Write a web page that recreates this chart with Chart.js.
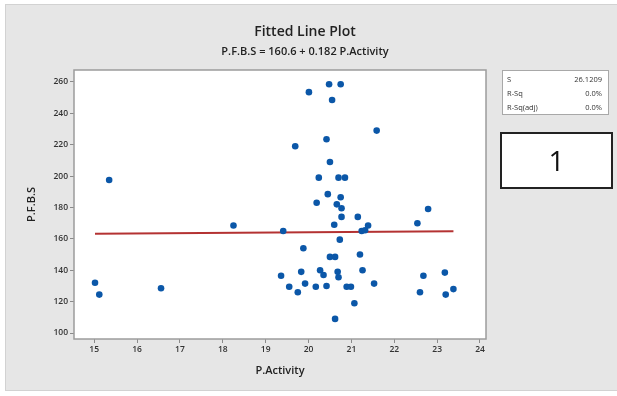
<!DOCTYPE html>
<html>
<head>
<meta charset="utf-8">
<script src="https://cdn.jsdelivr.net/npm/chart.js@4.4.1/dist/chart.umd.min.js"></script>
<style>
  html, body { margin: 0; padding: 0; background: #ffffff; }
  #wrap { position: relative; width: 617px; height: 396px; overflow: hidden; font-family: "Open Sans", "Noto Sans", sans-serif; }
  #panel { position: absolute; left: 5px; top: 4px; width: 612px; height: 387px; background: #e6e6e6; border-top: 1px solid #d2d2d2; border-left: 1px solid #d2d2d2; border-bottom: 1px solid #d2d2d2; box-sizing: border-box; }
  #c { position: absolute; left: 0; top: 0; }
  .t { position: absolute; white-space: nowrap; color: #222; }
  #title { left: 305px; top: 30px; transform: translate(-50%, -50%); font-size: 14px; font-weight: 600; }
  #sub { left: 305px; top: 50px; transform: translate(-50%, -50%); font-size: 11px; font-weight: 600; }
  #stats { position: absolute; left: 502px; top: 70px; width: 107px; height: 45px; background: #fff; border: 1px solid #a8a8a8; box-sizing: border-box; font-size: 7.5px; color: #333; }
  #stats .r { position: absolute; left: 4px; right: 6px; height: 10px; }
  #stats .r span:last-child { position: absolute; right: 0; }
  #one { position: absolute; left: 500px; top: 132px; width: 113px; height: 57px; background: #fff; border: 2px solid #222; box-sizing: border-box; font-size: 28px; color: #111; text-align: center; line-height: 53px; }
</style>
</head>
<body>
<div id="wrap">
  <div id="panel"></div>
  <canvas id="c" width="617" height="396"></canvas>
  <div class="t" id="title">Fitted Line Plot</div>
  <div class="t" id="sub">P.F.B.S = 160.6 + 0.182 P.Activity</div>
  <div id="stats">
    <div class="r" style="top:3px"><span>S</span><span>26.1209</span></div>
    <div class="r" style="top:17px"><span>R-Sq</span><span>0.0%</span></div>
    <div class="r" style="top:31px"><span>R-Sq(adj)</span><span>0.0%</span></div>
  </div>
  <div id="one">1</div>
</div>
<script>
// ---- data ----
const activity = [
  15.02, 15.12, 15.35, 16.56, 18.25,
  19.36, 19.41, 19.55, 19.69, 19.75, 19.83, 19.88, 19.92, 20.01, 20.17,
  20.19, 20.24, 20.27, 20.35, 20.42, 20.42, 20.45, 20.48, 20.50, 20.50,
  20.55, 20.62, 20.60, 20.62, 20.66, 20.68, 20.70, 20.70, 20.73, 20.75,
  20.75, 20.77, 20.77, 20.85, 20.89, 20.99, 21.07, 21.15, 21.20, 21.24,
  21.26, 21.32, 21.39, 21.53, 21.59,
  22.54, 22.60, 22.68, 22.79, 23.18, 23.20, 23.38
];
const pfbs = [
  132, 124.5, 197.5, 128.5, 168.5,
  136.5, 165, 129.5, 219, 126, 139, 154, 131.5, 253.5, 129.5,
  183, 199, 140, 137, 130, 223.5, 188.5, 258.5, 209, 148.5,
  248.5, 148.5, 169, 109, 182, 139, 135.5, 199, 159.5, 186.5,
  258.5, 179.5, 174, 199, 129.5, 129.5, 119, 174, 150, 165,
  140, 165.5, 168.5, 131.5, 229,
  170, 126, 136.5, 179, 138.5, 124.5, 128
];
const fitX = [15.02, 23.38];
const fitY = [163.3, 164.8];
const xTicks = [15, 16, 17, 18, 19, 20, 21, 22, 23, 24];
const yTicks = [100, 120, 140, 160, 180, 200, 220, 240, 260];

const points = activity.map((x, i) => ({ x: x, y: pfbs[i] }));
const fitLine = fitX.map((x, i) => ({ x: x, y: fitY[i] }));

const plotBox = {
  id: 'plotBox',
  beforeDatasetsDraw(chart) {
    const { ctx, chartArea: a } = chart;
    ctx.save();
    ctx.fillStyle = '#ffffff';
    ctx.fillRect(a.left, a.top, a.right - a.left, a.bottom - a.top);
    ctx.restore();
  },
  afterDatasetsDraw(chart) {
    const { ctx, chartArea: a } = chart;
    ctx.save();
    ctx.strokeStyle = '#9c9c9c';
    ctx.lineWidth = 1.5;
    ctx.strokeRect(a.left, a.top, a.right - a.left, a.bottom - a.top);
    ctx.restore();
  }
};

const tickFont = { family: "'Open Sans', 'Noto Sans', sans-serif", size: 8.5, weight: '600' };
const axisTitleFont = { family: "'Open Sans', 'Noto Sans', sans-serif", size: 11, weight: '600' };

new Chart(document.getElementById('c'), {
  type: 'scatter',
  data: {
    datasets: [
      {
        data: points,
        backgroundColor: '#0b57a8',
        borderColor: '#0b57a8',
        pointRadius: 3.3,
        pointStyle: 'circle',
        borderWidth: 0
      },
      {
        type: 'line',
        data: fitLine,
        borderColor: '#b43232',
        borderWidth: 2,
        pointRadius: 0,
        fill: false
      }
    ]
  },
  options: {
    responsive: false,
    animation: false,
    layout: { padding: { left: 0, right: 131, top: 70, bottom: 0 } },
    plugins: { legend: { display: false }, tooltip: { enabled: false } },
    scales: {
      x: {
        type: 'linear',
        min: 14.53,
        max: 24.14,
        afterBuildTicks: s => { s.ticks = xTicks.map(v => ({ value: v })); },
        afterFit: s => { s.height = 57; },
        grid: { drawOnChartArea: false, drawTicks: true, tickLength: 4, tickColor: '#8a8a8a', tickWidth: 1 },
        border: { display: false },
        ticks: { font: tickFont, color: '#333', padding: 1, maxRotation: 0, autoSkip: false },
        title: { display: true, text: 'P.Activity', font: axisTitleFont, color: '#222', padding: { top: 0, bottom: 19 } }
      },
      y: {
        type: 'linear',
        min: 96.2,
        max: 267.6,
        afterBuildTicks: s => { s.ticks = yTicks.map(v => ({ value: v })); },
        afterFit: s => { s.width = 74; },
        grid: { drawOnChartArea: false, drawTicks: true, tickLength: 4, tickColor: '#8a8a8a', tickWidth: 1 },
        border: { display: false },
        ticks: { font: tickFont, color: '#333', padding: 2, autoSkip: false },
        title: { display: true, text: 'P.F.B.S', font: axisTitleFont, color: '#222', padding: { top: 25, bottom: 0 } }
      }
    }
  },
  plugins: [plotBox]
});
</script>
</body>
</html>
